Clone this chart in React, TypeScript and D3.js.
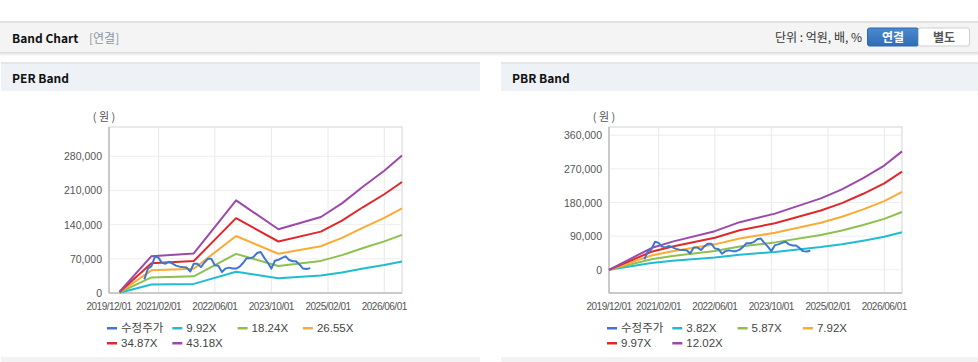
import { useEffect, useRef } from "react";
import * as d3 from "d3";

// ---- data ----
const axisStart = "2019/12";
const axisEnd = "2026/11";
const xTickLabels = ["2019/12/01", "2021/02/01", "2022/06/01", "2023/10/01", "2025/02/01", "2026/06/01"];

const seriesColors = ["#3c78d0", "#1fbcd2", "#8dc04e", "#fbab35", "#e0282c", "#9c4aa9"];
const priceName = "수정주가";

// adjusted price, monthly from priceStart
const priceStart = "2020/10";
const priceValues = [
  28000, 50000, 55000, 75000, 72000, 62000, 60000, 64000, 60000, 56000, 54000, 53000,
  52000, 44000, 60000, 60000, 53000, 62000, 70000, 70000, 57000, 56000, 43000, 50000,
  52000, 50000, 50000, 54000, 62000, 71000, 71000, 74000, 82000, 84000, 72000, 62000,
  50000, 66000, 68000, 72000, 75000, 68000, 65000, 65000, 58000, 50000, 49000, 51000,
];

// PER band: EPS per share at key months, multiplied by band multiples
const perMultiples = [9.92, 18.24, 26.55, 34.87, 43.18];
const perDates = ["2020/03", "2020/12", "2021/12", "2022/12", "2023/12", "2024/12", "2025/06", "2025/12", "2026/06", "2026/11"];
const perEps = [60, 1748, 1876, 4396, 3025, 3606, 4250, 5050, 5800, 6522];
const perYTicks = [0, 70000, 140000, 210000, 280000];

// PBR band: BPS per share at key months
const pbrMultiples = [3.82, 5.87, 7.92, 9.97, 12.02];
const pbrDates = ["2019/12", "2020/12", "2021/06", "2022/06", "2023/01", "2023/11", "2024/12", "2025/06", "2025/12", "2026/06", "2026/11"];
const pbrBps = [0, 4850, 6270, 8600, 10600, 12500, 15900, 17900, 20400, 23200, 26350];
const pbrYTicks = [0, 90000, 180000, 270000, 360000];

const parseMonth = d3.timeParse("%Y/%m");
const sans = "'Liberation Sans', Arial, 'Noto Sans CJK KR', sans-serif";
const kr = "'Noto Sans CJK KR', 'Noto Sans', sans-serif";

function BandChart({ left, title, multiples, dates, base, yDomain, yTicks }) {
  const ref = useRef();

  useEffect(() => {
    const g = d3.select(ref.current);
    g.selectAll("*").remove();

    const plotLeft = left + 109;
    const plotRight = left + 402;
    const plotTop = 127;
    const plotBottom = 293;

    const x = d3.scaleTime()
      .domain([parseMonth(axisStart), parseMonth(axisEnd)])
      .range([plotLeft, plotRight]);
    const y = d3.scaleLinear().domain(yDomain).range([plotBottom, plotTop]);

    // panel header
    g.append("rect").attr("x", left + 1).attr("y", 62).attr("width", 479).attr("height", 2).attr("fill", "#e3e6eb");
    g.append("rect").attr("x", left + 1).attr("y", 64).attr("width", 479).attr("height", 27).attr("fill", "#eef1f6");
    g.append("text").attr("x", left + 12).attr("y", 83)
      .attr("font-family", kr).attr("font-size", 12).attr("font-weight", 700).attr("fill", "#111")
      .text(title);

    // frame + grid
    g.append("rect").attr("x", plotLeft).attr("y", plotTop)
      .attr("width", plotRight - plotLeft).attr("height", plotBottom - plotTop)
      .attr("fill", "none").attr("stroke", "#d4d4d4");

    const xTicks = xTickLabels.map(d => d3.timeParse("%Y/%m/%d")(d));
    g.append("g").selectAll("line").data(xTicks).enter().append("line")
      .attr("x1", d => x(d)).attr("x2", d => x(d))
      .attr("y1", plotTop).attr("y2", plotBottom)
      .attr("stroke", "#e8e8e8");
    g.append("g").selectAll("line").data(yTicks).enter().append("line")
      .attr("x1", plotLeft).attr("x2", plotRight)
      .attr("y1", d => y(d)).attr("y2", d => y(d))
      .attr("stroke", "#eeeeee");

    g.append("line").attr("x1", plotLeft).attr("x2", plotLeft).attr("y1", plotTop).attr("y2", plotBottom).attr("stroke", "#aaa");
    g.append("line").attr("x1", plotLeft).attr("x2", plotRight).attr("y1", plotBottom).attr("y2", plotBottom).attr("stroke", "#aaa");

    // tick labels
    const fmt = d3.format(",");
    g.append("g").selectAll("text").data(yTicks).enter().append("text")
      .attr("x", plotLeft - 7).attr("y", d => y(d) + 4)
      .attr("text-anchor", "end").attr("font-family", sans).attr("font-size", 10.5).attr("fill", "#555")
      .text(d => fmt(d));
    g.append("g").selectAll("text").data(xTicks).enter().append("text")
      .attr("x", d => x(d)).attr("y", 309.5)
      .attr("text-anchor", "middle").attr("font-family", sans).attr("font-size", 10)
      .attr("letter-spacing", -0.5).attr("fill", "#555")
      .text((d, i) => xTickLabels[i]);
    g.append("text").attr("x", plotLeft - 5).attr("y", 121)
      .attr("text-anchor", "middle").attr("font-family", kr).attr("font-size", 11).attr("fill", "#555")
      .text("( 원 )");

    // bands
    const line = d3.line().x(d => x(d.date)).y(d => y(d.value));
    multiples.forEach((m, i) => {
      const pts = dates.map((d, j) => ({ date: parseMonth(d), value: base[j] * m }));
      g.append("path").datum(pts)
        .attr("fill", "none").attr("stroke", seriesColors[i + 1]).attr("stroke-width", 2)
        .attr("stroke-linejoin", "round").attr("d", line);
    });

    // price
    const p0 = parseMonth(priceStart);
    const pricePts = priceValues.map((v, i) => ({ date: d3.timeMonth.offset(p0, i), value: v }));
    g.append("path").datum(pricePts)
      .attr("fill", "none").attr("stroke", seriesColors[0]).attr("stroke-width", 2)
      .attr("stroke-linejoin", "round").attr("d", line);

    // legend
    const names = [priceName, ...multiples.map(m => m.toFixed(2) + "X")];
    const items = g.append("g").selectAll("g").data(names).enter().append("g")
      .attr("transform", (d, i) => `translate(${left + 107 + (i % 4) * 65.3},${i < 4 ? 332 : 347})`);
    items.append("rect").attr("x", 0).attr("y", -5).attr("width", 10).attr("height", 2.5)
      .attr("fill", (d, i) => seriesColors[i]);
    items.append("text").attr("x", 14).attr("y", 0)
      .attr("font-family", sans).attr("font-size", 11.5).attr("fill", "#444")
      .text(d => d);

    g.append("rect").attr("x", left + 1).attr("y", 357).attr("width", 479).attr("height", 5).attr("fill", "#f2f2f2");
  }, [left, title, multiples, dates, base, yDomain, yTicks]);

  return <g ref={ref}></g>;
}

export default function App() {
  return (
    <div style={{ position: "absolute", left: 0, top: 0 }}>
      <svg width={978} height={362} style={{ display: "block" }}>
        <defs>
          <linearGradient id="shadow" x1="0" y1="0" x2="0" y2="1">
            <stop offset="0" stopColor="#d8d8d8" />
            <stop offset="1" stopColor="#ffffff" />
          </linearGradient>
          <linearGradient id="btn" x1="0" y1="0" x2="0" y2="1">
            <stop offset="0" stopColor="#4a8ad0" />
            <stop offset="1" stopColor="#2f6db4" />
          </linearGradient>
        </defs>
        <rect x={0} y={0} width={978} height={362} fill="#fff" />
        {/* top header */}
        <rect x={0} y={21} width={978} height={2} fill="#e2e2e2" />
        <rect x={0} y={23} width={978} height={29} fill="#f4f4f4" />
        <rect x={0} y={52} width={978} height={4} fill="url(#shadow)" />
        <text x={12} y={43} fontFamily={kr} fontSize={12} fontWeight={700} fill="#111">Band Chart</text>
        <text x={89} y={43} fontFamily={kr} fontSize={12} fill="#8a94a4">[연결]</text>
        <text x={862} y={42} textAnchor="end" fontFamily={kr} fontSize={12} fill="#333">단위 : 억원, 배, %</text>
        <rect x={867.5} y={28} width={51} height={18} rx={2} fill="url(#btn)" stroke="#2f69a8" />
        <text x={893} y={41.5} textAnchor="middle" fontFamily={kr} fontSize={12} fontWeight={700} fill="#fff">연결</text>
        <rect x={918.5} y={28} width={51} height={18} rx={2} fill="#fff" stroke="#cfcfcf" />
        <text x={944} y={41.5} textAnchor="middle" fontFamily={kr} fontSize={12} fontWeight={700} fill="#555">별도</text>

        <BandChart left={0} title="PER Band" multiples={perMultiples} dates={perDates} base={perEps}
          yDomain={[0, 340000]} yTicks={perYTicks} />
        <BandChart left={500} title="PBR Band" multiples={pbrMultiples} dates={pbrDates} base={pbrBps}
          yDomain={[-62000, 382000]} yTicks={pbrYTicks} />
      </svg>
    </div>
  );
}
